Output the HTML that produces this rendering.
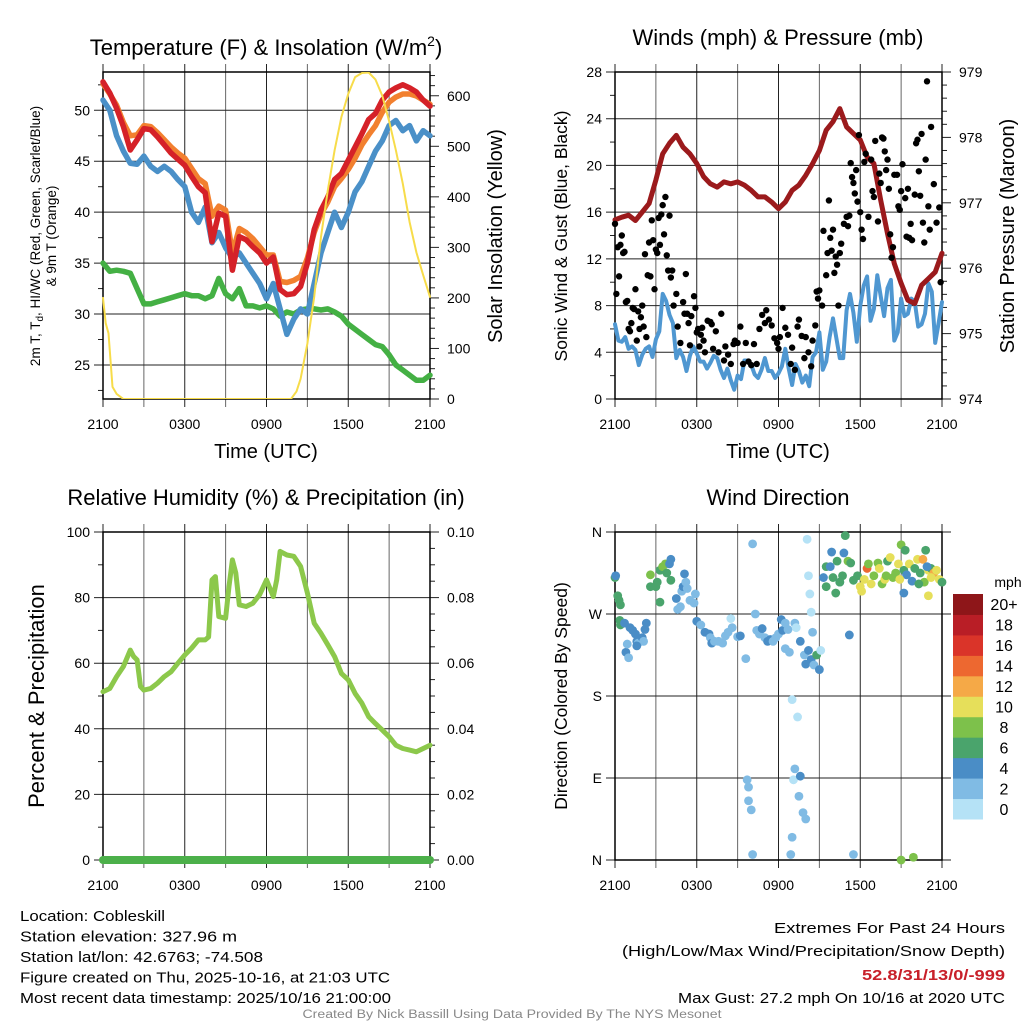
<!DOCTYPE html>
<html><head><meta charset="utf-8"><style>
html,body{margin:0;padding:0;background:#fff;}
svg{display:block;font-family:"Liberation Sans",sans-serif;}
</style></head><body>
<svg id="fig" width="1024" height="1024" viewBox="0 0 1024 1024" xmlns="http://www.w3.org/2000/svg"></svg>
<script>
// ---------- DATA ----------
const hh = [];for(let i=0;i<=48;i++)hh.push(i/2);
const tempRed = [52.8,51.7,50.2,48.4,46.1,47.1,48.2,48.1,47.4,46.6,45.8,45.2,44.6,43.5,42.5,41.9,37.1,39.9,39.6,34.3,37.6,37.3,36.6,36.0,35.0,35.6,32.4,31.9,32.0,32.7,35.0,38.3,40.2,41.5,43.2,43.8,45.1,46.4,47.7,49.1,49.7,51.0,51.8,52.2,52.5,52.2,51.8,51.0,50.4];
const tempOrange = [52.6,51.6,50.5,48.8,47.5,47.6,48.5,48.4,47.8,47.1,46.4,45.8,45.3,44.3,43.3,42.8,39.6,40.6,40.2,36.0,38.4,38.0,37.4,36.6,35.8,35.8,33.2,33.1,33.3,33.7,35.5,38.0,39.8,41.0,42.5,43.3,44.2,45.3,46.6,47.6,48.5,49.8,50.8,51.3,51.6,51.6,51.4,51.0,50.6];
const tempBlue = [51.0,50.0,47.5,46.0,44.8,44.7,45.5,44.5,44.0,44.5,44.0,43.2,42.5,40.0,39.0,40.5,37.0,38.0,36.5,35.5,36.0,35.0,34.0,33.0,31.5,33.0,30.5,28.0,29.5,30.5,30.0,33.0,36.0,38.0,40.0,38.5,40.0,42.0,43.0,44.5,46.0,47.0,48.5,49.0,48.0,48.5,47.0,48.0,47.5];
const tempGreen = [35.0,34.2,34.3,34.2,34.0,32.5,31.0,31.0,31.2,31.4,31.6,31.8,32.0,31.8,31.8,31.5,31.8,33.5,32.0,31.5,32.5,30.8,30.8,30.6,30.8,30.5,29.8,30.2,30.0,30.4,30.5,30.5,30.4,30.5,30.2,29.8,29.0,28.5,28.0,27.5,27.0,26.8,26.0,25.0,24.5,24.0,23.5,23.5,24.0];
const insolT = [0,0.2,0.4,0.7,1,1.5,13.8,14.2,14.5,15,15.5,16,16.5,17,17.5,18,18.5,19,19.5,20,20.5,21,21.5,22,22.5,23,23.5,24];
const insolV = [200,150,130,24,10,0,0,15,40,110,202,321,413,492,558,604,637,645,646,632,600,550,492,426,350,290,245,202];
const presV = [976.74,976.78,976.81,976.73,976.86,976.99,977.35,977.75,977.91,978.03,977.85,977.75,977.60,977.40,977.29,977.24,977.32,977.29,977.32,977.27,977.19,977.09,977.09,977.01,976.91,977.01,977.19,977.27,977.42,977.60,977.80,978.11,978.24,978.44,978.16,978.06,977.96,977.70,977.60,977.04,976.53,976.07,975.77,975.51,975.46,975.74,975.84,975.94,976.23];
const windV = [6,5.5,4,3.5,4,4,6,8,7,4,3,4,3.5,3,3.5,3,2,1,2.5,3,2.5,2,3,3,2,3.5,1.5,2,2.5,3,4.5,4,6,5,7,6,9,8.5,9,8,8,7,7.5,8,6.5,8,9,7,7];
const windJit = [0.4,-0.6,0.3,0.7,-0.2,0.5,-0.9,1.0,0.2,-0.5,0.6,-0.3,0.4,0.2,-0.4,0.5,-0.2,0.6,-0.5,0.3,0.4,-0.2,0.5,-0.6,0.2,0.8,-0.3,0.4,-0.5,0.6,1.2,-0.8,0.9,-1.5,0.6,1.4,-1.0,2.0,-1.3,0.8,1.5,-2.0,1.1,-0.7,1.8,-1.6,0.9,-2.2,1.3];
const gustT = [0,0.1,0.2,0.3,0.4,0.5,0.6,0.7,0.8,0.9,1,1.1,1.2,1.3,1.4,1.5,1.6,1.7,1.8,1.9,2,2.1,2.2,2.3,2.4,2.5,2.6,2.7,2.8,2.9,3,3.1,3.2,3.3,3.4,3.5,3.6,3.7,3.8,3.9,4,4.1,4.2,4.3,4.5,4.6,4.8,5,5.1,5.2,5.3,5.4,5.5,5.6,5.8,5.9,6,6.1,6.2,6.3,6.4,6.5,6.6,6.8,7,7.1,7.2,7.4,7.6,7.8,8,8.1,8.3,8.5,8.7,8.8,9,9.2,9.4,9.6,9.8,10,10.2,10.4,10.6,10.8,11,11.1,11.3,11.5,11.7,11.9,12,12.1,12.3,12.5,12.7,12.9,13,13.2,13.4,13.5,13.7,13.9,14,14.2,14.4,14.5,14.7,14.8,14.9,15,15.2,15.3,15.5,15.6,15.7,15.8,15.9,16,16.1,16.2,16.3,16.4,16.5,16.6,16.8,17,17.1,17.2,17.3,17.4,17.5,17.6,17.7,17.8,17.9,18,18.1,18.2,18.3,18.4,18.6,18.8,18.9,19,19.1,19.3,19.4,19.5,19.6,19.7,19.8,19.9,20,20.1,20.2,20.3,20.4,20.5,20.7,20.8,20.9,21,21.1,21.3,21.4,21.5,21.6,21.7,21.8,22,22.1,22.2,22.3,22.4,22.5,22.6,22.7,22.8,22.9,23,23.1,23.2,23.4,23.6,23.8,23.9];
const gustV = [15,9,13,10.5,13.2,14,12.5,12.6,8.3,8.4,6,5.8,6.5,7.8,7.7,9.4,5,7.5,6,7,8,6.2,12.4,5.3,10.6,13.4,10.5,15.3,13.6,9.4,12.8,12.5,15.5,13.2,15.8,16.6,14.1,17.3,12.3,11,15.7,10.4,11,8,9,6.2,4.8,8.3,7.3,10.7,7.3,6.5,4.6,7.1,8.8,7.8,5.7,6,4.5,5.5,6.1,5,4,6.7,6.6,6.4,4.3,5.8,4,7.3,3.3,4.5,3.8,3,4.7,5,4.8,6.2,3,4.8,3.2,2.9,4.7,3,6,7.2,6.5,7.6,6.8,6.3,5.2,4.8,4.3,5.3,7.8,6.1,5.5,3,4.4,2.5,6.2,6.8,5.4,3.5,5.3,4,2.8,5,6.3,9.2,8.6,9.3,8,14.4,10.6,12.5,17,13.8,12.7,14.5,10.8,12.2,11.5,8,12.5,13.3,15,15.6,14.8,15.7,20.2,19,18.5,17.6,19.6,16.9,22.6,16,14.5,13.7,20.3,21,15.6,20.5,17.8,17.3,22.1,15.2,19.3,18.5,22.4,22.3,21.2,19.6,20.5,18,14.1,12.1,13,19.2,19.2,16.5,16.2,17.8,20.1,17.2,13.9,18,13.8,15,13.6,17.5,21.9,22.2,19.5,17.4,22.7,15.1,13.4,20.5,27.2,16.5,14.5,23.3,18.4,15.1,16.4,10];
const rhT = [0,0.5,1,1.5,2,2.25,2.5,2.75,3,3.5,4,4.5,5,5.5,6,6.5,7,7.5,7.75,8,8.25,8.5,9,9.25,9.5,9.75,10,10.5,11,11.5,12,12.5,12.75,13,13.5,14,14.5,15,15.5,16,16.5,17,17.5,18,18.5,19,19.5,20,20.5,21,21.5,22,22.5,23,23.5,24];
const rhV = [51.3,52.3,55.9,59,64,62,61,52.9,51.8,52.3,53.9,55.9,57.4,60,62.5,64.6,67.1,67.1,68,85.4,86.4,74.2,73.7,83.4,91.5,87.5,77.8,77.3,78.3,80.9,85.4,80.3,85.4,94.1,93,92.6,89.5,81.4,72.2,69.1,65.6,62,56.9,54.9,50.8,47.8,43.7,41.6,39.6,37.6,35,34,33.5,33,34,35];
const precipT = [0,24];
const precipV = [0,0];
const dirT = [0,0.05,0.2,0.3,0.4,0.35,0.4,0.7,1.1,1.3,1.5,1.6,1.7,2.0,2.2,2.3,2.1,0.8,1,0.9,1.6,2.6,2.6,3,3.1,3.3,3.3,3.5,3.7,3.8,4,4.1,4.1,4.5,4.6,4.8,4.9,5.0,5.1,5.2,5.3,5.5,5.8,5.9,6,6.3,6.6,6.9,7,7.1,7.3,7.6,7.9,8.1,8.3,8.5,8.6,9.0,9.2,9.6,9.7,9.8,9.8,10,10.1,10.1,10.3,10.4,10.6,10.8,11,11.2,11.4,11.6,11.8,12,12.2,12.3,12.5,12.7,12.5,12.8,13,13.4,13.1,13.2,13.5,13.6,13.8,14,13,12.9,13.2,13.3,13.6,13.9,14.0,14.2,14.4,14.6,14.1,14.2,14.3,14.4,14.5,14.8,15,15.1,15.3,15.5,15.5,15.8,15.9,16,16.2,16.5,16.7,16.8,16.9,17.1,17.3,17.2,17.5,17.8,18.0,18.3,18.5,18.6,18.8,19,19.3,19.4,19.6,19.8,20,20.2,20.4,20.6,20.8,21,21.2,21.3,21.4,21.6,21.8,22,22.2,22.4,22.6,22.7,22.8,23,23.2,23.4,23.6,23.8,24,23.2,22.9,21,21.9,17.5,16.5,21.2,22.3,23,18.1,16.3,20.9,19.9];
const dirV = [310,312,290,285,280,263,258,260,255,252,248,240,238,244,253,260,240,228,222,237,235,300,313,300,305,283,318,322,325,315,325,330,307,287,275,278,295,300,314,305,298,285,282,292,262,258,250,248,244,238,240,240,238,246,250,265,255,245,246,221,88,80,65,55,347,6,270,252,248,254,244,240,242,240,244,248,264,252,260,253,232,228,176,157,88,100,70,92,52,45,25,6,260,255,240,225,215,230,220,214,352,312,292,272,250,225,209,230,310,322,300,322,338,310,293,305,312,337,356,328,326,247,307,312,300,308,320,325,303,312,326,320,303,308,328,332,310,315,325,346,318,340,313,325,306,320,330,315,330,305,340,318,320,315,318,308,305,310,322,0,3,6,305,293,303,290,295,328,308,312];
const dirS = [6,4,6,6,6,6,6,4,4,4,4,4,2,4,4,4,2,4,2,2,4,6,8,6,6,6,6,8,8,6,4,4,6,4,2,2,2,4,4,2,2,2,2,2,4,2,4,4,2,4,2,2,2,2,2,0,2,2,4,2,2,2,2,2,2,2,2,2,2,4,2,4,4,2,2,2,4,4,2,2,2,2,0,0,0,2,2,4,2,2,2,2,2,0,4,2,4,4,4,2,0,0,0,0,2,6,4,0,4,6,6,4,4,6,6,4,6,4,6,8,6,4,6,6,10,10,14,8,10,8,8,10,8,10,6,10,8,8,10,8,6,6,4,10,4,6,10,6,12,8,6,10,6,12,10,10,6,10,4,8,8,2,6,4,6,10,10,6,10,8];
const cbLabels = ["0","2","4","6","8","10","12","14","16","18","20+"];
const cbColors = ["#b5e2f6","#80bbe4","#4a8dc6","#4aa46c","#7dc14b","#e6df5a","#f5a947","#ed6830","#da3429","#b91e26","#8e1619"];
const xTickLabels = ["2100","0300","0900","1500","2100"];

// ---------- HELPERS ----------
const NS="http://www.w3.org/2000/svg";
const svg=document.getElementById('fig');
function mk(tag,attrs,parent){const e=document.createElementNS(NS,tag);for(const k in attrs)e.setAttribute(k,attrs[k]);(parent||svg).appendChild(e);return e;}
function txt(s,x,y,size,anchor,parent,extra){const e=mk('text',Object.assign({x:x,y:y,'font-size':size,'text-anchor':anchor||'middle',fill:'#000'},extra||{}),parent);e.textContent=s;return e;}
function lin(lo,hi,p0,p1){return v=>p0+(v-lo)/(hi-lo)*(p1-p0);}
function pathD(xs,ys,fx,fy){return xs.map((t,i)=>(i?'L':'M')+fx(t).toFixed(1)+','+fy(ys[i]).toFixed(1)).join('');}

function panel(name,x0,x1,y0,y1,lt,ltl,lfy,rt,rtl,rfy,opts){
  const g=mk('g',{});
  
  
  const grid=mk('g',{stroke:'#222','stroke-width':1},g);
  
  
  const fx=lin(0,24,x0,x1);
  for(let h=0;h<=24;h+=3){const x=fx(h);mk('line',{x1:x,x2:x,y1:y0-8,y2:y1+8,stroke:h%6?'#666':'#222'},grid);}
  lt.forEach((v,i)=>{const y=lfy(v);mk('line',{x1:x0-9,x2:x1+(opts.gridRight||0),y1:y,y2:y},grid);
    const l=txt(ltl[i],x0-13,y+5,14,'end',g);});
  if(opts.lminor){opts.lminor.forEach(v=>{const y=lfy(v);mk('line',{x1:x0-5,x2:x0,y1:y,y2:y},grid);});}
  if(rt){rt.forEach((v,i)=>{const y=rfy(v);mk('line',{x1:x1,x2:x1+9,y1:y,y2:y},grid);
    const l=txt(rtl[i],x1+17,y+5,14,'start',g);});
    if(opts.rminor){opts.rminor.forEach(v=>{const y=rfy(v);mk('line',{x1:x1,x2:x1+5,y1:y,y2:y},grid);});}}
  mk('rect',{x:x0,y:y0,width:x1-x0,height:y1-y0,fill:'none',stroke:'#000','stroke-width':1.5},g);
  xTickLabels.forEach((s,i)=>{const l=txt(s,fx(i*6),y1+30,14,'middle',g);});
  return {g,fx};
}

// ---------- PANEL 1 ----------
(function(){
  const x0=103,x1=430,y0=72,y1=399;
  const fy=lin(21.66,53.76,y1,y0), ry=lin(0,647,y1,y0);
  const lm=[];for(let v=22.5;v<54;v+=2.5)if(v%5)lm.push(v);
  const rm=[];for(let v=20;v<=640;v+=20)if(v%100)rm.push(v);
  const p=panel('temperature-panel',x0,x1,y0,y1,[25,30,35,40,45,50],['25','30','35','40','45','50'],fy,[0,100,200,300,400,500,600],['0','100','200','300','400','500','600'],ry,{lminor:lm,rminor:rm});
  const g=p.g, fx=p.fx;
  const clip=mk('clipPath',{id:'c1'},g);mk('rect',{x:x0-4,y:y0,width:x1-x0+8,height:y1-y0},clip);
  const pg=mk('g',{'clip-path':'url(#c1)','fill':'none','stroke-linejoin':'round','stroke-linecap':'round'},g);
  let e;
  e=mk('path',{d:pathD(hh,tempGreen,fx,fy),stroke:'#44b044','stroke-width':5.5},pg);
  e=mk('path',{d:pathD(hh,tempBlue,fx,fy),stroke:'#4a90c8','stroke-width':5.5},pg);
  e=mk('path',{d:pathD(hh,tempOrange,fx,fy),stroke:'#f2802f','stroke-width':5.5},pg);
  e=mk('path',{d:pathD(hh,tempRed,fx,fy),stroke:'#d52128','stroke-width':5.5},pg);
  e=mk('path',{d:pathD(insolT,insolV,fx,ry),stroke:'#f7dc4a','stroke-width':2},pg);
  const t=mk('text',{x:266,y:55,'font-size':22,'text-anchor':'middle'});t.innerHTML='Temperature (F) &amp; Insolation (W/m<tspan dy="-9" font-size="14">2</tspan><tspan dy="9">)</tspan>';
  
  const yl=mk('text',{'font-size':13.5,'text-anchor':'middle',transform:'translate(40,236) rotate(-90)'});yl.innerHTML='2m T, T<tspan dy="3" font-size="10">d</tspan><tspan dy="-3">, HI/WC (Red, Green, Scarlet/Blue)</tspan>';
  
  e=txt('& 9m T (Orange)',0,0,13.5,'middle',svg,{transform:'translate(56,236) rotate(-90)'});
  e=txt('Solar Insolation (Yellow)',0,0,20,'middle',svg,{transform:'translate(502,236) rotate(-90)'});
  e=txt('Time (UTC)',266,458,20);
})();

// ---------- PANEL 2 ----------
(function(){
  const x0=615,x1=942,y0=72,y1=399;
  const fy=lin(0,28,y1,y0), ry=lin(974,979,y1,y0);
  const lm=[];for(let v=2;v<28;v+=4)lm.push(v);
  const rm=[];for(let v=974.2;v<979;v+=0.2)if(Math.abs(v-Math.round(v))>0.05)rm.push(v);
  const p=panel('wind-pressure-panel',x0,x1,y0,y1,[0,4,8,12,16,20,24,28],['0','4','8','12','16','20','24','28'],fy,[974,975,976,977,978,979],['974','975','976','977','978','979'],ry,{lminor:lm,rminor:rm});
  const g=p.g, fx=p.fx;
  const pg=mk('g',{'fill':'none','stroke-linejoin':'round','stroke-linecap':'round'},g);
  const wt=[],wv=[];
  hh.forEach((t,i)=>{wt.push(t);wv.push(Math.max(0.5,windV[i]+windJit[i]));if(i<48){wt.push(t+0.25);wv.push(Math.max(0.5,windV[i]-windJit[(i+7)%49]));}});
  let e=mk('path',{d:pathD(wt,wv,fx,fy),stroke:'#4f97d1','stroke-width':4},pg);
  const dg=mk('g',{fill:'#000'},g);
  gustT.forEach((t,i)=>{const c=mk('circle',{cx:fx(t),cy:fy(gustV[i]),r:3.2},dg);
    
    });
  e=mk('path',{d:pathD(hh,presV,fx,ry),stroke:'#9b1a1c','stroke-width':5},pg);
  e=txt('Winds (mph) & Pressure (mb)',778,45,22);
  e=txt('Sonic Wind & Gust (Blue, Black)',0,0,17.5,'middle',svg,{transform:'translate(567,236) rotate(-90)'});
  e=txt('Station Pressure (Maroon)',0,0,20,'middle',svg,{transform:'translate(1014,236) rotate(-90)'});
  e=txt('Time (UTC)',778,458,20);
})();

// ---------- PANEL 3 ----------
(function(){
  const x0=103,x1=430,y0=532,y1=860;
  const fy=lin(0,100,y1,y0), ry=lin(0,0.1,y1,y0);
  const lm=[10,30,50,70,90];
  const rm=[];for(let v=0.005;v<0.1;v+=0.005)if(Math.round(v*1000)%20)rm.push(v);
  const p=panel('humidity-panel',x0,x1,y0,y1,[0,20,40,60,80,100],['0','20','40','60','80','100'],fy,[0,0.02,0.04,0.06,0.08,0.1],['0.00','0.02','0.04','0.06','0.08','0.10'],ry,{lminor:lm,rminor:rm});
  const g=p.g, fx=p.fx;
  const pg=mk('g',{'fill':'none','stroke-linejoin':'round','stroke-linecap':'round'},g);
  let e=mk('path',{d:pathD(precipT,precipV,fx,ry),stroke:'#4cb04a','stroke-width':8},pg);
  e=mk('path',{d:pathD(rhT,rhV,fx,fy),stroke:'#8cc84b','stroke-width':5},pg);
  e=txt('Relative Humidity (%) & Precipitation (in)',266,505,22);
  e=txt('Percent & Precipitation',0,0,22,'middle',svg,{transform:'translate(44,696) rotate(-90)'});
})();

// ---------- PANEL 4 ----------
(function(){
  const x0=615,x1=942,y0=532,y1=860;
  const fy=lin(0,360,y1,y0);
  const p=panel('wind-direction-panel',x0,x1,y0,y1,[0,90,180,270,360],['N','E','S','W','N'],fy,null,null,null,{gridRight:9});
  const g=p.g, fx=p.fx;
  const dg=mk('g',{},g);
  dirT.forEach((t,i)=>{const c=mk('circle',{cx:fx(t),cy:fy(dirV[i]),r:4.4,fill:cbColors[Math.min(10,Math.floor(dirS[i]/2))]},dg);
    
    });
  const cb=mk('g',{},g);
  const cbTop=594,cbBot=819,h=(cbBot-cbTop)/cbColors.length;
  cbColors.forEach((c,i)=>{const y=cbBot-(i+1)*h;const r=mk('rect',{x:953,y:y,width:30,height:h+0.5,fill:c},cb);
    
    
    const l=txt(cbLabels[i],1004,y+h/2+6,16,'middle',cb);
    
    });
  let e=txt('mph',1008,587,14,'middle',cb);
  e=txt('Wind Direction',778,505,22);
  e=txt('Direction (Colored By Speed)',0,0,17.5,'middle',svg,{transform:'translate(567,696) rotate(-90)'});
})();

// ---------- FOOTER TEXT ----------
const leftLines=[["Location: Cobleskill",145],["Station elevation: 327.96 m",217],["Station lat/lon: 42.6763; -74.508",243],["Figure created on Thu, 2025-10-16, at 21:03 UTC",370],["Most recent data timestamp: 2025/10/16 21:00:00",371]];
leftLines.forEach((l,i)=>{const e=txt(l[0],20,921+i*20.5,15,'start',svg,{textLength:l[1],lengthAdjust:'spacingAndGlyphs'});
  
  });
const rightLines=[["Extremes For Past 24 Hours",231,933,'#000','normal'],["(High/Low/Max Wind/Precipitation/Snow Depth)",383,956,'#000','normal'],["52.8/31/13/0/-999",143,980,'#c8202a','bold'],["Max Gust: 27.2 mph On 10/16 at 2020 UTC",327,1003,'#000','normal']];
rightLines.forEach(l=>{const e=txt(l[0],1005,l[2],15,'end',svg,{textLength:l[1],lengthAdjust:'spacingAndGlyphs',fill:l[3],'font-weight':l[4]});
  
  });
const cr=txt('Created By Nick Bassill Using Data Provided By The NYS Mesonet',512,1018,11.5,'middle',svg,{fill:'#888',textLength:419,lengthAdjust:'spacingAndGlyphs'});


</script>
</body></html>
